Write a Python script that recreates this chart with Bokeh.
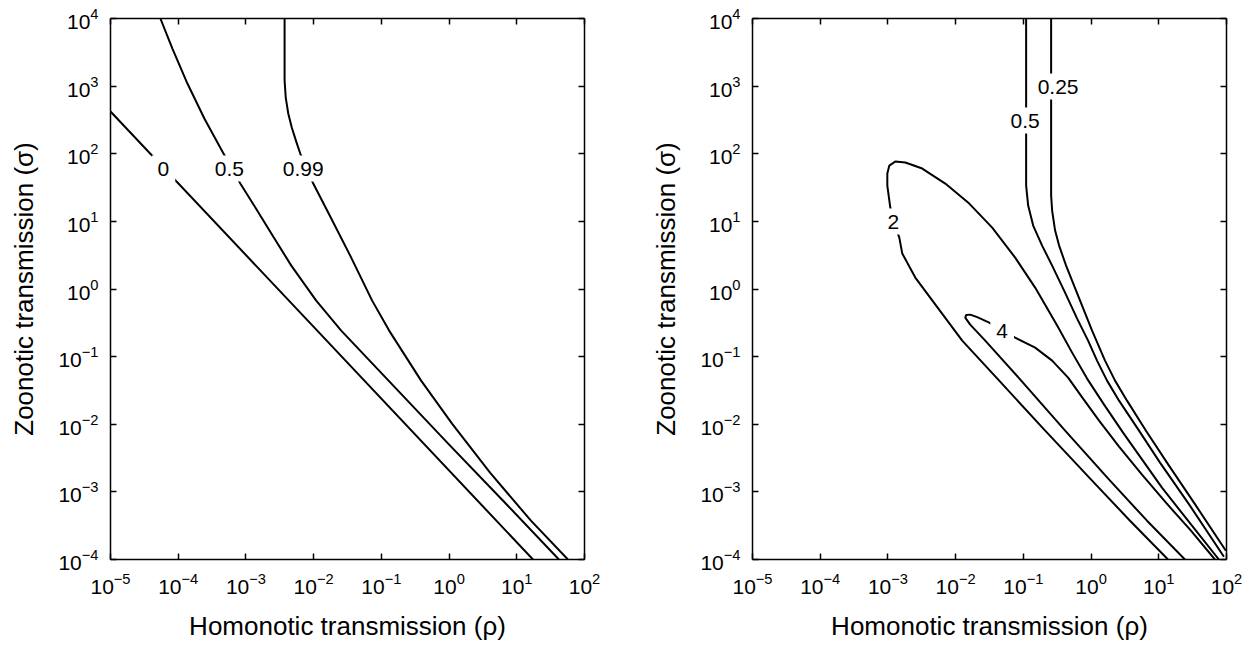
import numpy as np
from bokeh.plotting import figure
from bokeh.models import FixedTicker, LogAxis, ColumnDataSource, CustomJSTickFormatter
from bokeh.layouts import row
from bokeh.embed import file_html
from bokeh.resources import INLINE
from bokeh.core.properties import value

FONT = "Liberation Sans"

x_ticks = [1e-5, 1e-4, 1e-3, 1e-2, 1e-1, 1e0, 1e1, 1e2]
y_ticks = [1e-4, 1e-3, 1e-2, 1e-1, 1e0, 1e1, 1e2, 1e3, 1e4]
x_title = "Homonotic transmission (ρ)"
y_title = "Zoonotic transmission (σ)"

# ---- left panel contours (log10 rho, log10 sigma) ----
A_levels = ["0", "0.5", "0.99"]
A0_lr = [-5.000, -1.947, 1.239]
A0_ls = [2.624, -0.615, -4.000]
A05_lr = [-4.263, -4.086, -3.864, -3.614, -3.348, -3.083, -2.861, -2.625, -2.330, -1.962, -1.593,
          -0.796, 0.015, 0.826, 1.622]
A05_ls = [4.000, 3.556, 3.038, 2.521, 2.033, 1.559, 1.204, 0.820, 0.346, -0.172, -0.615,
          -1.459, -2.317, -3.160, -4.000]
A099_lr = [-2.429, -2.429, -2.412, -2.375, -2.323, -2.257, -2.198, -2.006, -1.755, -1.460, -1.136,
           -0.885, -0.413, 0.044, 0.605, 1.209, 1.755]
A099_ls = [4.000, 3.083, 2.831, 2.595, 2.388, 2.180, 2.003, 1.559, 1.071, 0.494, -0.172,
           -0.615, -1.355, -1.991, -2.716, -3.426, -4.000]
A_lab_lr = [-4.218, -3.245, -2.153]
A_lab_ls = [1.781, 1.781, 1.781]

# ---- right panel contours ----
B_levels = ["0.25", "0.5", "2", "4"]
B025_lr = [-0.590, -0.590, -0.575, -0.531, -0.472, -0.369, -0.192, 0.015, 0.206, 0.354, 0.531,
           0.811, 1.121, 1.549, 1.991]
B025_ls = [4.000, 1.382, 1.160, 0.864, 0.642, 0.346, -0.098, -0.615, -1.059, -1.355, -1.651,
           -2.095, -2.568, -3.204, -3.870]
B05_lr = [-0.959, -0.959, -0.929, -0.855, -0.723, -0.575, -0.398, -0.206, -0.044, 0.088, 0.236,
          0.413, 0.708, 1.018, 1.460, 1.962]
B05_ls = [4.000, 1.530, 1.234, 0.938, 0.642, 0.346, -0.024, -0.438, -0.763, -1.059, -1.355,
          -1.651, -2.095, -2.568, -3.204, -3.959]
B2_lr = [1.136, 0.575, 0.015, -0.678, -1.357, -1.903, -2.596, -2.788, -2.832, -2.920, -2.965,
         -3.009, -3.009, -2.979, -2.891, -2.743, -2.493, -2.153, -1.799, -1.460, -1.121, -0.826,
         -0.501, -0.280, -0.059, 0.192, 0.472, 1.047, 1.490, 1.888]
B2_ls = [-4.000, -3.426, -2.834, -2.095, -1.355, -0.763, 0.169, 0.524, 0.760, 1.012, 1.204,
         1.530, 1.707, 1.825, 1.885, 1.870, 1.781, 1.559, 1.263, 0.908, 0.464, 0.021,
         -0.541, -0.941, -1.325, -1.710, -2.124, -2.938, -3.500, -4.000]
B4_lr = [1.386, 0.826, 0.280, -0.383, -1.032, -1.563, -1.785, -1.858, -1.844, -1.785, -1.681,
         -1.504, -1.313, -1.121, -0.826, -0.575, -0.339, -0.118, 0.118, 0.413, 0.752, 1.106,
         1.475, 1.829]
B4_ls = [-4.000, -3.426, -2.834, -2.095, -1.355, -0.763, -0.527, -0.423, -0.386, -0.379, -0.416,
         -0.497, -0.615, -0.719, -0.867, -1.059, -1.311, -1.621, -1.947, -2.331, -2.746, -3.160,
         -3.574, -4.000]
B_lab_lr = [-0.487, -0.973, -2.920, -1.313]
B_lab_ls = [2.994, 2.491, 0.997, -0.615]


def make_panel(curves, lab_lr, lab_ls, labels, left_border, right_border):
    p = figure(x_axis_type="log", y_axis_type="log",
               x_range=(1e-5, 1e2), y_range=(1e-4, 1e4),
               frame_width=474, frame_height=541,
               min_border_left=left_border, min_border_right=right_border,
               min_border_top=18, min_border_bottom=89,
               output_backend="svg", toolbar_location=None,
               background_fill_color="white", border_fill_color="white")
    p.outline_line_color = None
    p.xgrid.visible = False
    p.ygrid.visible = False

    for lr, ls in curves:
        p.line(10 ** np.array(lr), 10 ** np.array(ls), line_color="black", line_width=2,
               line_join="round")

    src = ColumnDataSource(dict(x=10 ** np.array(lab_lr), y=10 ** np.array(lab_ls), t=labels))
    p.text(x="x", y="y", text="t", source=src, text_font=value(FONT),
           text_font_size="21px", text_align="center", text_baseline="middle",
           text_color="black", background_fill_color="white", padding=6)

    bottom = p.below[0]
    left = p.left[0]
    top = LogAxis(formatter=CustomJSTickFormatter(code="return ''"))
    rgt = LogAxis(formatter=CustomJSTickFormatter(code="return ''"))
    p.add_layout(top, "above")
    p.add_layout(rgt, "right")

    for ax, tk in [(bottom, x_ticks), (top, x_ticks), (left, y_ticks), (rgt, y_ticks)]:
        ax.ticker = FixedTicker(ticks=tk)
        ax.major_tick_in = 6
        ax.major_tick_out = 0
        ax.minor_tick_line_color = None
        ax.axis_line_color = "black"
        ax.axis_line_width = 1.5
        ax.major_tick_line_color = "black"
        ax.major_tick_line_width = 1.5
        ax.major_label_text_font = FONT
        ax.major_label_text_font_size = "21px"
        ax.major_label_text_color = "black"
    for ax in [top, rgt]:
        ax.major_label_text_font_size = "1px"
        ax.major_label_standoff = 0

    bottom.major_label_standoff = 13
    left.major_label_standoff = 12
    bottom.axis_label = x_title
    left.axis_label = y_title
    for ax in [bottom, left]:
        ax.axis_label_text_font = FONT
        ax.axis_label_text_font_size = "26px"
        ax.axis_label_text_font_style = "normal"
        ax.axis_label_text_color = "black"
    bottom.axis_label_standoff = 14
    left.axis_label_standoff = 16
    return p


p1 = make_panel([(A0_lr, A0_ls), (A05_lr, A05_ls), (A099_lr, A099_ls)],
                A_lab_lr, A_lab_ls, A_levels, 110, 64)
p2 = make_panel([(B025_lr, B025_ls), (B05_lr, B05_ls), (B2_lr, B2_ls), (B4_lr, B4_ls)],
                B_lab_lr, B_lab_ls, B_levels, 102, 30)

layout = row(p1, p2)
open("out.html", "w").write(file_html(layout, INLINE))
